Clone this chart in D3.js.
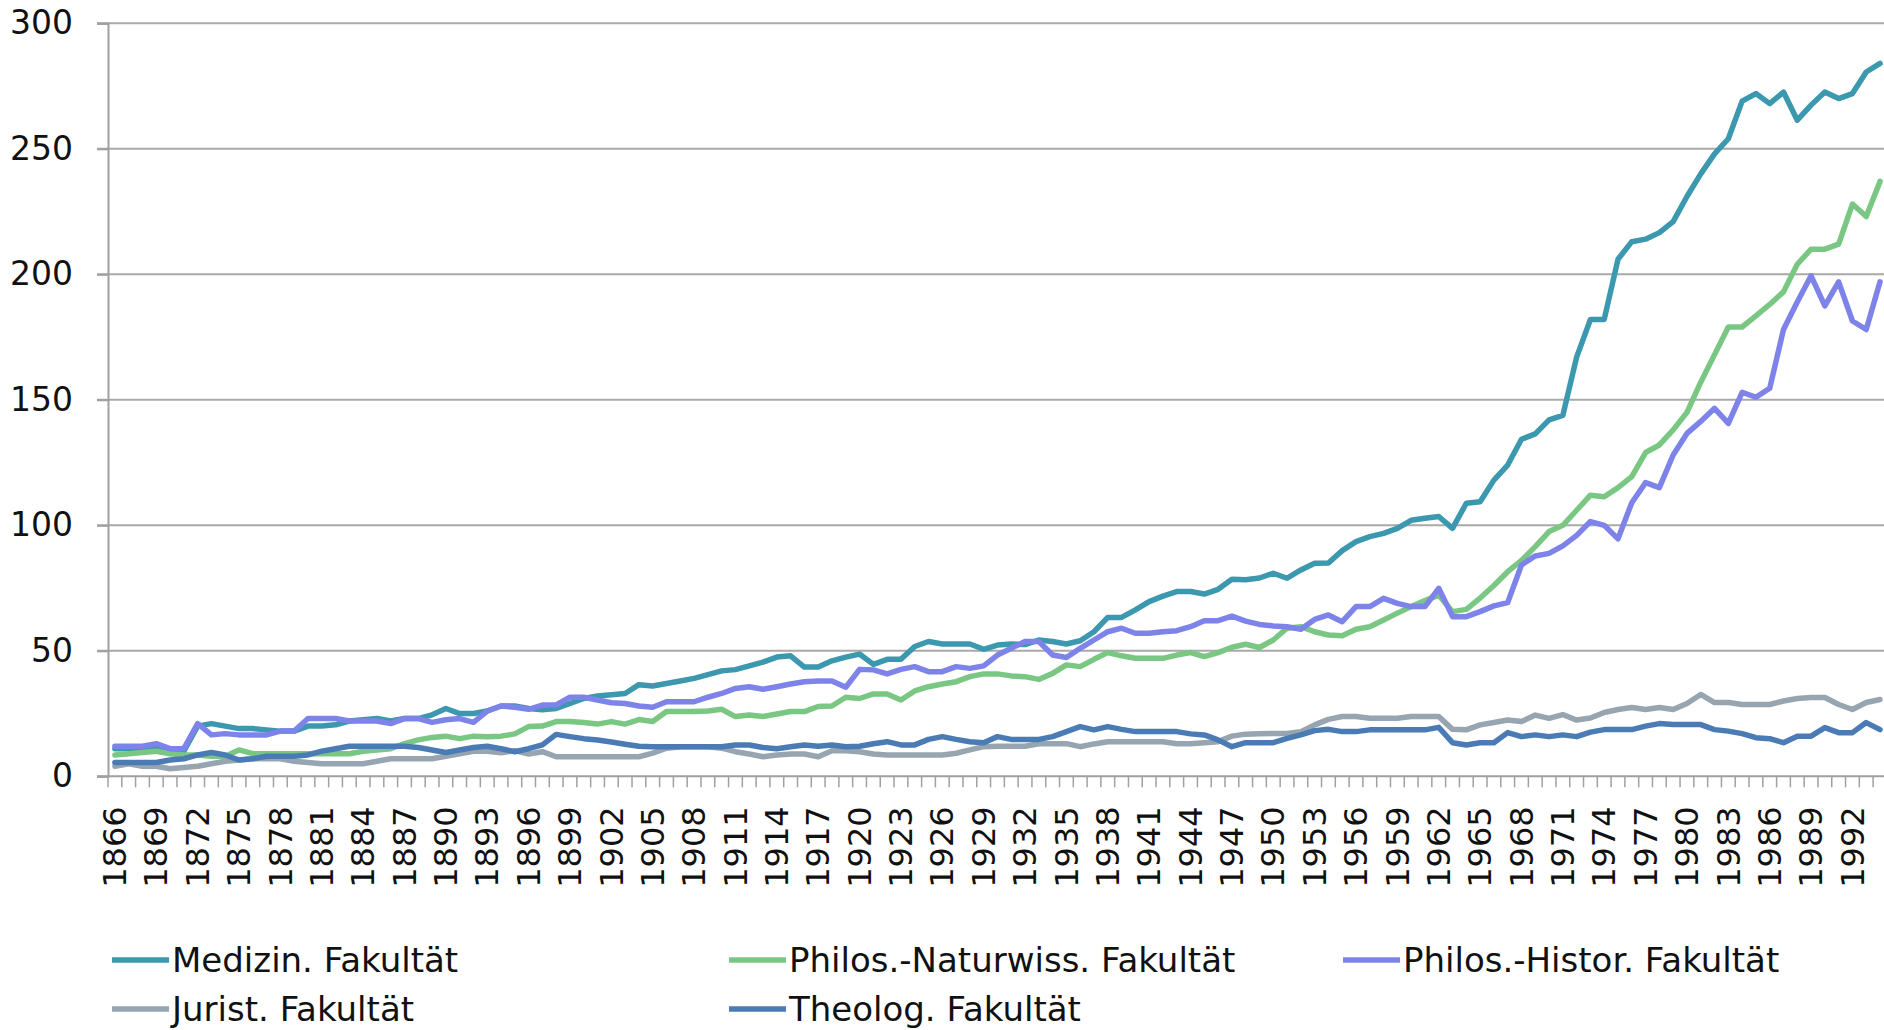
<!DOCTYPE html>
<html>
  <head>
    <meta charset="utf-8">
    <title>Fakultaeten</title>
    <script src="https://cdn.jsdelivr.net/npm/d3@7"></script>
    <style>
      body { margin: 0; background: #fff; }
      text { font-family: "DejaVu Sans", sans-serif; fill: #111; }
    </style>
  </head>
  <body>

    <script>
      var firstYear = 1866, lastYear = 1994;
      var years = d3.range(firstYear, lastYear + 1);

      var medizin = [
        11, 11, 11, 12, 10, 10, 20, 21, 20, 19,
        19, 18.5, 18, 18, 20, 20, 20.5, 22, 22.5, 23,
        22, 23, 23, 24.5, 27, 25, 25, 26, 28, 28,
        27, 26.5, 27, 29, 31, 32, 32.5, 33, 36.5, 36,
        37, 38, 39, 40.5, 42, 42.5, 44, 45.5, 47.5, 48,
        43.5, 43.5, 46, 47.5, 48.7, 44.6, 46.6, 46.6, 51.7, 53.7,
        52.7, 52.7, 52.7, 50.6, 52.3, 52.7, 52.5, 54.3, 53.7, 52.7,
        54, 57.6, 63.3, 63.3, 66.3, 69.6, 71.8, 73.6, 73.6, 72.6,
        74.5, 78.5, 78.3, 79, 80.9, 78.9, 82.2, 84.9, 85, 89.9,
        93.5, 95.5, 96.8, 98.8, 102, 102.8, 103.5, 98.8, 108.8, 109.4,
        118, 124, 134.3, 136.4, 142, 143.8, 167, 182, 182, 206,
        213, 214, 216.6, 221, 231, 240, 248, 254, 269, 272,
        268, 272.6, 261.4, 267.4, 272.6, 270, 272, 280.6, 284
      ];

      var naturwiss = [
        8.5, 9, 9.5, 10, 9, 8.5, 8.5, 8, 8, 10.5,
        9, 9, 9, 9, 9, 9, 9, 9, 10, 10.5,
        11, 13, 14.5, 15.5, 16, 15, 16, 15.8, 16, 16.9,
        19.8, 20, 21.8, 21.8, 21.4, 20.8, 21.8, 20.8, 22.6, 21.8,
        25.8, 25.8, 25.8, 26, 26.7, 23.8, 24.4, 23.8, 24.8, 25.8,
        25.8, 27.8, 28, 31.5, 31, 32.8, 32.8, 30.4, 34, 35.7,
        36.8, 37.7, 39.7, 40.8, 40.8, 40, 39.7, 38.6, 41, 44.4,
        43.7, 46.6, 49.3, 48, 47, 47, 47, 48.3, 49.3, 47.7,
        49.3, 51.4, 52.6, 51.3, 54.3, 59, 59.6, 57.6, 56.3, 56,
        58.6, 59.6, 62.3, 65, 67.6, 70, 72.2, 65.6, 66.5, 71,
        76, 81.5, 86, 91.5, 97.5, 100, 106, 112, 111.4, 115,
        119.4, 129, 132, 138, 145, 157, 168, 179, 179, 183.4,
        188, 193, 204, 210, 210, 212, 228, 223, 237
      ];

      var histor = [
        12, 12, 12, 13, 11, 11, 21, 16.5, 17, 16.5,
        16.5, 16.5, 18, 18, 23, 23, 23, 22, 22, 22,
        21, 23, 23, 21.5, 22.5, 23, 21.5, 26, 28, 27.5,
        26.7, 28.4, 28.4, 31.5, 31.5, 30.4, 29.3, 29, 28, 27.5,
        29.7, 29.7, 29.7, 31.5, 33, 35, 35.7, 34.7, 35.7, 36.8,
        37.7, 38, 38, 35.5, 42.6, 42.4, 40.8, 42.6, 43.7, 41.7,
        41.7, 43.7, 43, 44, 48.3, 51, 53.7, 53.7, 48.3, 47.3,
        51, 54.3, 57.6, 59, 57, 57, 57.6, 58, 59.6, 62,
        62, 63.8, 61.8, 60.5, 59.9, 59.6, 58.6, 62.5, 64.3, 61.6,
        67.6, 67.6, 70.9, 68.9, 67.6, 67.6, 74.9, 63.6, 63.6, 65.6,
        67.9, 69.2, 84.2, 87.8, 88.8, 91.8, 96, 101.5, 100, 94.6,
        109, 117, 115, 128, 136.6, 141.4, 146.6, 140.6, 153, 151,
        154.6, 178, 189, 199.4, 187.4, 197, 181.4, 178, 197
      ];

      var jurist = [
        4, 5, 4, 4, 3, 3.5, 4, 5, 6, 6.5,
        7, 7, 7, 6, 5.5, 5, 5, 5, 5, 6,
        7, 7, 7, 7, 8, 9, 10, 10, 9.4, 10.2,
        8.9, 9.8, 7.8, 7.8, 7.8, 7.8, 7.8, 7.8, 7.8, 9.2,
        11.2, 11.8, 11.8, 11.8, 11.2, 9.8, 8.9, 7.8, 8.5, 8.9,
        8.9, 7.8, 10.2, 10.2, 9.8, 8.9, 8.5, 8.5, 8.5, 8.5,
        8.5, 9.2, 10.5, 11.8, 12, 12, 12, 13, 13, 13,
        11.8, 12.9, 13.8, 13.8, 13.8, 13.8, 13.8, 13, 13, 13.4,
        13.8, 16, 16.8, 17, 17.1, 17.1, 17.8, 20.5, 22.7, 23.8,
        23.8, 23.1, 23.1, 23.1, 23.8, 23.8, 23.8, 18.7, 18.5, 20.5,
        21.4, 22.4, 21.8, 24.4, 23.1, 24.6, 22.4, 23.2, 25.4, 26.6,
        27.4, 26.6, 27.4, 26.6, 29, 32.6, 29.4, 29.4, 28.6, 28.6,
        28.6, 30, 31, 31.4, 31.4, 28.6, 26.6, 29.4, 30.6
      ];

      var theolog = [
        5.5, 5.5, 5.5, 5.5, 6.5, 7, 8.5, 9.5, 8.5, 6.5,
        7, 8, 8, 8, 8.5, 10, 11, 12, 12, 12,
        12, 12, 11.5, 10.5, 9.5, 10.5, 11.5, 12, 11, 9.8,
        11, 12.5, 16.7, 15.8, 15, 14.5, 13.7, 12.8, 12, 11.8,
        11.8, 11.8, 11.8, 11.8, 11.8, 12.5, 12.5, 11.5, 11, 11.8,
        12.5, 12, 12.5, 11.8, 12, 13, 13.8, 12.5, 12.5, 14.7,
        15.8, 14.7, 13.8, 13.4, 15.8, 14.7, 14.7, 14.7, 15.8, 17.8,
        19.8, 18.5, 19.8, 18.7, 17.8, 17.8, 17.8, 17.8, 16.9, 16.5,
        14.5, 11.8, 13.4, 13.4, 13.4, 15.1, 16.5, 18.2, 18.7, 17.8,
        17.8, 18.5, 18.5, 18.5, 18.5, 18.5, 19.5, 13.4, 12.5, 13.4,
        13.4, 17.4, 15.8, 16.5, 15.8, 16.5, 15.8, 17.6, 18.6, 18.6,
        18.6, 20, 21, 20.6, 20.6, 20.6, 18.6, 18, 17, 15.4,
        15, 13.4, 16, 16, 19.4, 17.4, 17.4, 21.4, 18.6
      ];

      var seriesNames = ["Medizin. Fakultät", "Philos.-Naturwiss. Fakultät",
                         "Philos.-Histor. Fakultät", "Jurist. Fakultät", "Theolog. Fakultät"];
      var seriesValues = [medizin, naturwiss, histor, jurist, theolog];
      var colors = ["#3b98ae", "#79c783", "#7e83ea", "#97a5b1", "#4a7bb5"];
      var yTicks = [0, 50, 100, 150, 200, 250, 300];

      var width = 1884, height = 1030;
      var plotLeft = 108, plotTop = 23.3, plotBottom = 776.3;
      var step = 13.79;

      var svg = d3.select("body").append("svg")
        .attr("width", width)
        .attr("height", height);

      var x = d3.scaleBand()
        .domain(years)
        .range([plotLeft, plotLeft + years.length * step]);

      var y = d3.scaleLinear()
        .domain([0, 300])
        .range([plotBottom, plotTop]);

      // gridlines
      svg.append("g").selectAll("line").data(yTicks.slice(1)).enter().append("line")
        .attr("x1", plotLeft - 11)
        .attr("x2", width)
        .attr("y1", function (d){ return y(d); })
        .attr("y2", function (d){ return y(d); })
        .attr("stroke", "#a9a9a9")
        .attr("stroke-width", 2);

      // y axis
      var yAxis = svg.append("g")
        .attr("transform", "translate(" + plotLeft + ",0)")
        .call(d3.axisLeft(y).tickValues(yTicks).tickSize(11).tickPadding(24));
      yAxis.select(".domain").attr("stroke", "#a0a0a0").attr("stroke-width", 2);
      yAxis.selectAll(".tick line").attr("stroke", "#a0a0a0").attr("stroke-width", 2);
      yAxis.selectAll("text")
        .style("font-size", "33px")
        .style("font-family", "DejaVu Sans")
        .attr("fill", "#111");

      // x axis line and ticks between categories
      svg.append("line")
        .attr("x1", plotLeft - 11).attr("x2", width)
        .attr("y1", plotBottom).attr("y2", plotBottom)
        .attr("stroke", "#a0a0a0").attr("stroke-width", 2);

      svg.append("g").selectAll("line").data(years).enter().append("line")
        .attr("x1", function (d){ return x(d); })
        .attr("x2", function (d){ return x(d); })
        .attr("y1", plotBottom)
        .attr("y2", plotBottom + 11)
        .attr("stroke", "#a0a0a0")
        .attr("stroke-width", 1.5);

      var labelYears = years.filter(function (d){ return (d - firstYear) % 3 === 0; });
      svg.append("g").selectAll("text").data(labelYears).enter().append("text")
        .attr("transform", function (d){
          return "translate(" + (x(d) + x.bandwidth() / 2) + "," + (plotBottom + 30) + ") rotate(-90)";
        })
        .attr("text-anchor", "end")
        .attr("dy", "0.35em")
        .style("font-size", "32px")
        .text(function (d){ return d; });

      // lines
      var line = d3.line()
        .x(function (d, i){ return x(years[i]) + x.bandwidth() / 2; })
        .y(function (d){ return y(d); });

      svg.append("g").selectAll("path").data(seriesValues).enter().append("path")
        .attr("d", line)
        .attr("fill", "none")
        .attr("stroke", function (d, i){ return colors[i]; })
        .attr("stroke-width", 5.5)
        .attr("stroke-linejoin", "round")
        .attr("stroke-linecap", "round");

      // legend
      var legendPos = [[112, 960], [729, 960], [1343, 960], [112, 1009], [729, 1009]];
      var legend = svg.append("g").selectAll("g").data(seriesNames).enter().append("g")
        .attr("transform", function (d, i){ return "translate(" + legendPos[i][0] + "," + legendPos[i][1] + ")"; });

      legend.append("line")
        .attr("x1", 0).attr("x2", 57)
        .attr("y1", 0).attr("y2", 0)
        .attr("stroke", function (d, i){ return colors[i]; })
        .attr("stroke-width", 5.5);

      legend.append("text")
        .attr("x", 60)
        .attr("dy", "0.36em")
        .style("font-size", "34px")
        .text(function (d){ return d; });
    </script>

  </body>
</html>
